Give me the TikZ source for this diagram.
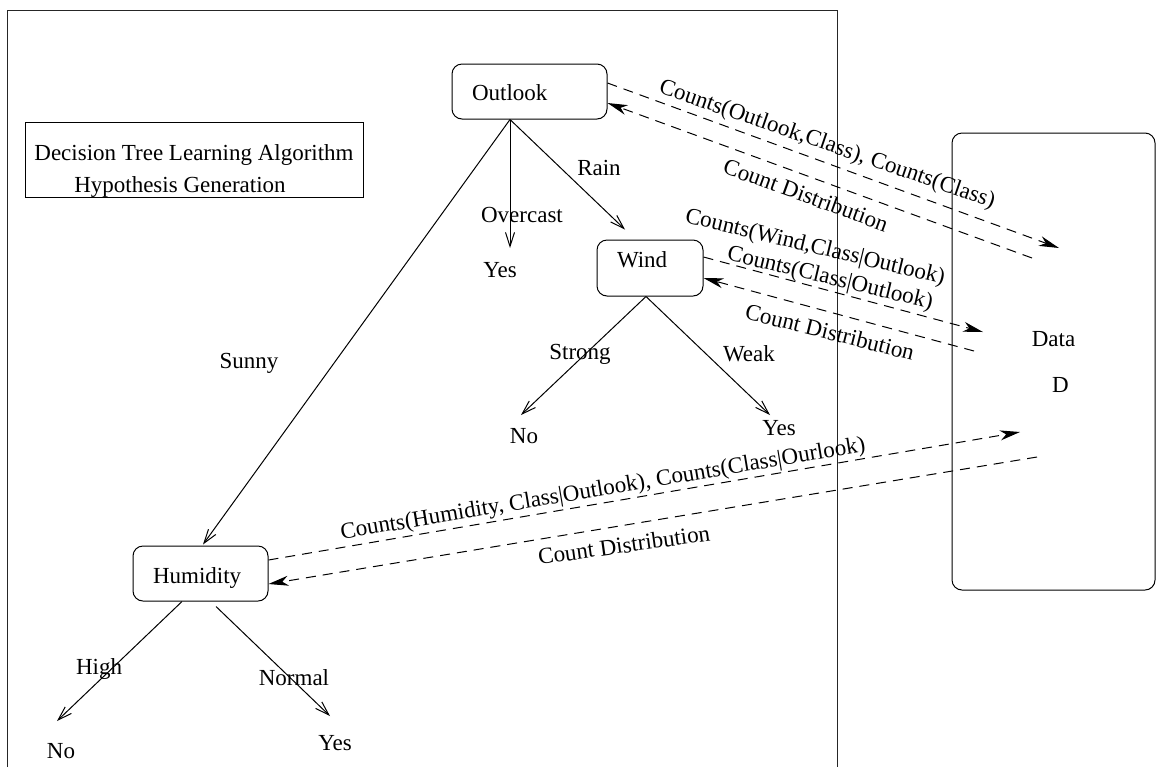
\documentclass[tikz,border=0pt]{standalone}
\usepackage{fontspec}
\setmainfont{Liberation Serif}
\usetikzlibrary{arrows.meta, calc}

\begin{document}
\begin{tikzpicture}[x=0.5pt, y=-0.5pt,
  font=\fontsize{11.5pt}{14pt}\selectfont,
  every node/.style={inner sep=0pt},
  attrbox/.style={draw, rounded corners=5pt, align=left, inner xsep=10pt, inner ysep=0pt, line width=0.5pt},
  branch/.style={line width=0.5pt, -{Straight Barb[length=7pt, width=4.5pt]}},
  query/.style={line width=0.5pt, dash pattern=on 5pt off 3.5pt, -{Stealth[length=10pt, width=5pt, inset=3pt]}}]
  \useasboundingbox (0,0) rectangle (1156,767);

  % Learner frame (open at the bottom)
  \draw[line width=0.5pt, black!85] (7,767) -- (7,10) -- (837,10) -- (837,767);

  % Title
  \node[draw, line width=0.5pt, minimum width=169pt, minimum height=37pt, align=center] (title) at (194,160)
    {\rule{0pt}{19pt}Decision Tree Learning Algorithm\\[2pt]\hspace*{-14pt}Hypothesis Generation};

  % Attribute nodes
  \node[attrbox, text width=57.5pt, text height=18.3pt, text depth=9.2pt] (outlook) at (529.5,91.5) {Outlook};
  \node[attrbox, text width=33pt, text height=13.8pt, text depth=14.2pt] (wind) at (650,268) {Wind};
  \node[attrbox, text width=47.5pt, text height=18.8pt, text depth=8.7pt] (humidity) at (200.5,573.5) {Humidity};

  % Leaves
  \node (yesO) at (500,270) {Yes};
  \node (noW) at (524,436) {No};
  \node (yesW) at (779,428) {Yes};
  \node (noH) at (61,751) {No};
  \node (yesH) at (335,743) {Yes};

  % Branch labels
  \node (sunny) at (249,363) {Sunny};
  \node (overcast) at (522,215) {Overcast};
  \node (rain) at (599,168) {Rain};
  \node (strong) at (580,354) {Strong};
  \node (weak) at (749,354) {Weak};
  \node (high) at (99,669) {High};
  \node (normal) at (294,678) {Normal};

  % Tree branches
  \draw[branch] ([xshift=-9.75pt]outlook.south) -- ([shift={(5pt,11pt)}]yesO.center);
  \draw[branch] ([xshift=-9.75pt]outlook.south) -- ([shift={(-12.5pt,5pt)}]wind.north);
  \draw[branch] ([xshift=-9.75pt]outlook.south) -- ([shift={(1.25pt,0.5pt)}]humidity.north);
  \draw[branch] ([xshift=-2pt]wind.south) -- ([shift={(-1.5pt,10.5pt)}]noW.center);
  \draw[branch] ([xshift=-2pt]wind.south) -- ([shift={(-4.5pt,6.5pt)}]yesW.center);
  \draw[branch] ([xshift=-9.25pt]humidity.south) -- ([shift={(-2pt,15pt)}]noH.center);
  \draw[branch] ([shift={(7.75pt,-2.5pt)}]humidity.south) -- ([shift={(-2.5pt,13.5pt)}]yesH.center);

  % Data source
  \node[draw, line width=0.5pt, rounded corners=5pt, minimum width=101.5pt, minimum height=228.5pt, align=center] (data)
    at (1053.5,361.5) {Data\\[9pt]\hspace*{7pt}D};
  \coordinate (toData1) at (1059,248);
  \coordinate (fromData1) at (1032,258);
  \coordinate (toData2) at (983,332);
  \coordinate (fromData2) at (974,351);
  \coordinate (toData3) at (1020,432);
  \coordinate (fromData3) at (1037,457);

  % Count queries and answers
  \draw[query] ([yshift=4.25pt]outlook.east) -- (toData1);
  \draw[query] (fromData1) -- ([yshift=-5.75pt]outlook.east);
  \draw[query] ([yshift=5.5pt]wind.east) -- (toData2);
  \draw[query] (fromData2) -- ([yshift=-5pt]wind.east);
  \draw[query] ([yshift=6.75pt]humidity.east) -- (toData3);
  \draw[query] (fromData3) -- ([yshift=-5.25pt]humidity.east);

  \node[rotate=-19] (qOutlook) at (827,145) {Counts(Outlook,Class), Counts(Class)};
  \node[rotate=-20] (aOutlook) at (806,195) {Count Distribution};
  \node[rotate=-13.5] (qWind) at (815,248) {Counts(Wind,Class|Outlook)};
  \node[rotate=-13.5] (qWindB) at (830,279) {Counts(Class|Outlook)};
  \node[rotate=-14] (aWind) at (830,332) {Count Distribution};
  \node[rotate=9.5] (qHumidity) at (603,490) {Counts(Humidity, Class|Outlook), Counts(Class|Ourlook)};
  \node[rotate=8] (aHumidity) at (624,545) {Count Distribution};
\end{tikzpicture}
\end{document}
